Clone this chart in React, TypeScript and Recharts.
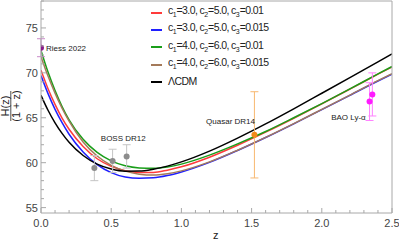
import { ComposedChart, Line, Scatter, XAxis, YAxis, ErrorBar, ReferenceDot } from 'recharts';

const FONT = '"Liberation Sans", Arial, sans-serif';
const FRAME = '#a8a8a8';

// sample redshifts for the model curves
const zGrid = [0, 0.05, 0.1, 0.15, 0.2, 0.3, 0.4, 0.5, 0.6, 0.7, 0.8, 0.9, 1.0, 1.2, 1.4, 1.6, 1.8, 2.0, 2.2, 2.4, 2.5];

// H(z)/(1+z)
const redVals = [70.3, 68.24, 66.49, 64.96, 63.72, 61.8, 60.44, 59.6, 59.11, 58.92, 58.92, 59.17, 59.54, 60.61, 61.94, 63.4, 64.95, 66.55, 68.19, 69.85, 70.67];
const blueVals = [69.7, 67.69, 65.94, 64.46, 63.17, 61.2, 59.79, 58.9, 58.41, 58.27, 58.32, 58.57, 58.97, 60.04, 61.36, 62.8, 64.33, 65.91, 67.5, 69.09, 69.86];
const greenVals = [72.5, 70.09, 68.04, 66.26, 64.77, 62.6, 61.14, 60.2, 59.66, 59.42, 59.37, 59.52, 59.84, 60.84, 62.09, 63.47, 65.0, 66.58, 68.22, 69.88, 70.7];
const brownVals = [71.8, 69.64, 67.74, 66.06, 64.62, 62.3, 60.74, 59.7, 59.06, 58.72, 58.62, 58.77, 59.09, 60.09, 61.39, 62.82, 64.35, 65.93, 67.52, 69.13, 69.9];
const lcdmVals = [67.5, 65.84, 64.44, 63.26, 62.27, 60.8, 59.84, 59.3, 59.06, 59.07, 59.27, 59.62, 60.09, 61.29, 62.74, 64.32, 66.0, 67.73, 69.47, 71.23, 72.1];

// observational points [z, value, error]
const riess = [{ z: 0, h: 72.8, e: 1.0 }];
const boss = [
  { z: 0.38, h: 59.4, e: 1.4 },
  { z: 0.51, h: 60.2, e: 1.3 },
  { z: 0.61, h: 60.7, e: 1.3 },
];
const quasar = [{ z: 1.52, h: 63.1, e: 4.8 }];
const baoLya = [
  { z: 2.34, h: 66.8, e: 2.1 },
  { z: 2.36, h: 67.6, e: 2.4 },
];

const xTicks = Array.from({ length: 26 }, (_, i) => +(i * 0.1).toFixed(1));
const yTicks = Array.from({ length: 24 }, (_, i) => 55 + i);

const series = [
  { name: ['3.0', '5.0', '0.01'], color: '#ff3b3b', vals: redVals },
  { name: ['3.0', '5.0', '0.015'], color: '#1f1fff', vals: blueVals },
  { name: ['4.0', '6.0', '0.01'], color: '#1a9e1a', vals: greenVals },
  { name: ['4.0', '6.0', '0.015'], color: '#a47a5a', vals: brownVals },
];

const toData = (vals: number[]) => zGrid.map((z, i) => ({ z, h: vals[i] }));

const isMajor = (v: number, step: number) => Math.abs(v / step - Math.round(v / step)) < 1e-6;

function BottomTick({ x, y, payload }: any) {
  const major = isMajor(payload.value, 0.5);
  return (
    <g>
      <line x1={x} x2={x} y1={y} y2={y - (major ? 5 : 3)} stroke={FRAME} />
      {major && (
        <text x={x} y={y + 14} textAnchor="middle" fontSize={11} fill="#444" fontFamily={FONT}>
          {payload.value.toFixed(1)}
        </text>
      )}
    </g>
  );
}

function TopTick({ x, y, payload }: any) {
  const major = isMajor(payload.value, 0.5);
  return <line x1={x} x2={x} y1={y} y2={y + (major ? 5 : 3)} stroke={FRAME} />;
}

function LeftTick({ x, y, payload }: any) {
  const major = isMajor(payload.value, 5);
  return (
    <g>
      <line x1={x} x2={x + (major ? 5 : 3)} y1={y} y2={y} stroke={FRAME} />
      {major && (
        <text x={x - 3} y={y + 4} textAnchor="end" fontSize={11} fill="#444" fontFamily={FONT}>
          {payload.value}
        </text>
      )}
    </g>
  );
}

function RightTick({ x, y, payload }: any) {
  const major = isMajor(payload.value, 5);
  return <line x1={x} x2={x - (major ? 5 : 3)} y1={y} y2={y} stroke={FRAME} />;
}

const dot = (color: string) => (p: any) => <circle cx={p.cx} cy={p.cy} r={3} fill={color} />;

const noteLabel = (text: string, anchor: 'start' | 'middle') => (p: any) => {
  const vb = p.viewBox;
  const cx = vb.x + (vb.width || 0) / 2;
  const cy = vb.y + (vb.height || 0) / 2;
  return (
    <text x={anchor === 'start' ? cx + 5 : cx} y={cy + 3} textAnchor={anchor} fontSize={8} fill="#222" fontFamily={FONT}>
      {text}
    </text>
  );
};

const subStyle = { fontSize: 7, letterSpacing: 0 };

export default function App() {
  return (
    <div style={{ position: 'relative', width: 399, height: 245, fontFamily: FONT }}>
      <style>{'body{margin:0}'}</style>
      <ComposedChart width={399} height={245} margin={{ top: 0, right: 6, bottom: 0, left: 0 }}>
        <XAxis
          dataKey="z"
          type="number"
          domain={[0, 2.5]}
          ticks={xTicks}
          interval={0}
          tickSize={0}
          tickMargin={0}
          height={32}
          stroke={FRAME}
          tick={<BottomTick />}
          allowDataOverflow
        />
        <XAxis
          xAxisId="top"
          orientation="top"
          type="number"
          domain={[0, 2.5]}
          ticks={xTicks}
          interval={0}
          tickSize={0}
          tickMargin={0}
          height={1}
          stroke={FRAME}
          tick={<TopTick />}
        />
        <YAxis
          type="number"
          domain={[54.4, 78]}
          ticks={yTicks}
          interval={0}
          tickSize={0}
          tickMargin={0}
          width={41}
          stroke={FRAME}
          tick={<LeftTick />}
          allowDataOverflow
        />
        <YAxis
          yAxisId="right"
          orientation="right"
          type="number"
          domain={[54.4, 78]}
          ticks={yTicks}
          interval={0}
          tickSize={0}
          tickMargin={0}
          width={1}
          stroke={FRAME}
          tick={<RightTick />}
        />
        {series.map((s) => (
          <Line
            key={s.color}
            data={toData(s.vals)}
            dataKey="h"
            type="monotone"
            stroke={s.color}
            strokeWidth={1.5}
            dot={false}
            isAnimationActive={false}
          />
        ))}
        <Line data={toData(lcdmVals)} dataKey="h" type="monotone" stroke="#000" strokeWidth={1.5} dot={false} isAnimationActive={false} />

        <Scatter data={riess} dataKey="h" shape={dot('#8a1a8a')} isAnimationActive={false}>
          <ErrorBar dataKey="e" direction="y" width={4} stroke="#c98ac9" strokeWidth={1} />
        </Scatter>
        <Scatter data={boss} dataKey="h" shape={dot('#8c8c8c')} isAnimationActive={false}>
          <ErrorBar dataKey="e" direction="y" width={4} stroke="#c4c4c4" strokeWidth={1} />
        </Scatter>
        <Scatter data={quasar} dataKey="h" shape={dot('#f28a1a')} isAnimationActive={false}>
          <ErrorBar dataKey="e" direction="y" width={4} stroke="#f8b870" strokeWidth={1} />
        </Scatter>
        <Scatter data={baoLya} dataKey="h" shape={dot('#ff1aff')} isAnimationActive={false}>
          <ErrorBar dataKey="e" direction="y" width={4} stroke="#ff80ff" strokeWidth={1} />
        </Scatter>

        <ReferenceDot x={0} y={72.8} r={0} stroke="none" label={noteLabel('Riess 2022', 'start')} />
        <ReferenceDot x={0.586} y={62.8} r={0} stroke="none" label={noteLabel('BOSS DR12', 'middle')} />
        <ReferenceDot x={1.35} y={64.6} r={0} stroke="none" label={noteLabel('Quasar DR14', 'middle')} />
        <ReferenceDot x={2.19} y={65.1} r={0} stroke="none" label={noteLabel('BAO Ly-α', 'middle')} />
      </ComposedChart>

      {/* y-axis label as a fraction */}
      <svg width={30} height={245} style={{ position: 'absolute', left: 0, top: 0 }}>
        <g transform="translate(0,106) rotate(-90)" fontFamily={FONT} fontSize={11} fill="#222">
          <text x={0} y={8.5} textAnchor="middle">H(z)</text>
          <line x1={-15} x2={15} y1={10.8} y2={10.8} stroke="#222" strokeWidth={0.8} />
          <text x={0} y={20} textAnchor="middle">(1 + z)</text>
        </g>
      </svg>
      <div style={{ position: 'absolute', left: 213, top: 229, fontSize: 11, color: '#222' }}>z</div>

      {/* legend */}
      <div style={{ position: 'absolute', left: 151, top: 4, fontSize: 10.5, color: '#222', lineHeight: '17.3px', letterSpacing: -0.6 }}>
        {series.map((s) => (
          <div key={s.color} style={{ display: 'flex', alignItems: 'center', height: 17.3 }}>
            <span style={{ width: 11, height: 2, background: s.color, marginRight: 6 }} />
            <span>
              c<sub style={subStyle}>1</sub>={s.name[0]}, c<sub style={subStyle}>2</sub>={s.name[1]}, c
              <sub style={subStyle}>3</sub>={s.name[2]}
            </span>
          </div>
        ))}
        <div style={{ display: 'flex', alignItems: 'center', height: 17.3 }}>
          <span style={{ width: 11, height: 2, background: '#000', marginRight: 6 }} />
          <span>ΛCDM</span>
        </div>
      </div>
    </div>
  );
}
